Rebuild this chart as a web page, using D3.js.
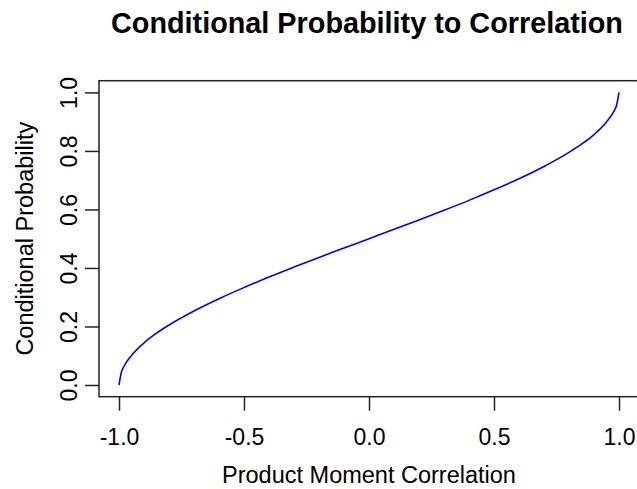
<!DOCTYPE html>
<html>
<head>
<meta charset="utf-8">
<script src="https://cdn.jsdelivr.net/npm/d3@7"></script>
<style>
  body { margin: 0; background: #fff; }
  text { font-family: "Liberation Sans", Arial, sans-serif; fill: #000; }
</style>
</head>
<body>
<svg id="chart"></svg>
<script>
// values
const corr = [-1.0, -0.99, -0.98, -0.95, -0.9, -0.85, -0.8, -0.7, -0.6, -0.5, -0.4, -0.3, -0.2, -0.1,
  0.0, 0.1, 0.2, 0.3, 0.4, 0.5, 0.6, 0.7, 0.8, 0.85, 0.9, 0.95, 0.98, 0.99, 1.0];
const prob = [0.0, 0.045, 0.064, 0.101, 0.144, 0.177, 0.205, 0.253, 0.295, 0.333, 0.369, 0.403, 0.436, 0.468,
  0.5, 0.532, 0.564, 0.597, 0.631, 0.667, 0.705, 0.747, 0.795, 0.823, 0.856, 0.899, 0.936, 0.955, 1.0];
const xTicks = [-1.0, -0.5, 0.0, 0.5, 1.0];
const yTicks = [0.0, 0.2, 0.4, 0.6, 0.8, 1.0];

const [width, height] = [637, 489];
const box = { left: 99, right: 639, top: 80.7, bottom: 396.7 };

let svg = d3.select('#chart')
  .attr('width', width)
  .attr('height', height)

// R style: 4% padding around data range
let x = d3.scaleLinear().domain([-1.08, 1.08]).range([box.left, box.right])
let y = d3.scaleLinear().domain([-0.04, 1.04]).range([box.bottom, box.top])

let data = corr.map((c, i) => ({ x: c, y: prob[i] }))

// curve
svg.append('path')
  .datum(data)
  .attr('fill', 'none')
  .attr('stroke', '#0000ff')
  .attr('stroke-width', 1.6)
  .attr('d', d3.line()
    .x(d => x(d.x))
    .y(d => y(d.y))
    .curve(d3.curveMonotoneX))

// plot box
svg.append('rect')
  .attr('x', box.left)
  .attr('y', box.top)
  .attr('width', box.right - box.left)
  .attr('height', box.bottom - box.top)
  .attr('fill', 'none')
  .attr('stroke', '#222')
  .attr('stroke-width', 1.5)

// x axis
let gx = svg.append('g')
  .attr('transform', 'translate(0,' + box.bottom + ')')
  .call(d3.axisBottom(x).tickValues(xTicks).tickSize(14).tickFormat(d3.format('.1f')))
gx.select('.domain').remove()
gx.selectAll('line').attr('stroke', '#222').attr('stroke-width', 1.5)
gx.selectAll('text')
  .attr('y', 48)
  .attr('dy', 0)
  .attr('font-size', 23)
  .attr('font-family', '"Liberation Sans", Arial, sans-serif')
  .attr('fill', '#000')
  .text(d => d3.format('.1f')(d).replace('−', '-'))

// y axis
let gy = svg.append('g')
  .attr('transform', 'translate(' + box.left + ',0)')
  .call(d3.axisLeft(y).tickValues(yTicks).tickSize(14).tickFormat(d3.format('.1f')))
gy.select('.domain').remove()
gy.selectAll('line').attr('stroke', '#222').attr('stroke-width', 1.5)
gy.selectAll('text')
  .attr('x', null)
  .attr('dy', 0)
  .attr('text-anchor', 'middle')
  .attr('transform', 'translate(-22,0) rotate(-90)')
  .attr('font-size', 23)
  .attr('font-family', '"Liberation Sans", Arial, sans-serif')
  .attr('fill', '#000')

// title
svg.append('text')
  .attr('x', 367)
  .attr('y', 33)
  .attr('text-anchor', 'middle')
  .attr('font-size', 28.8)
  .attr('font-weight', 'bold')
  .text('Conditional Probability to Correlation')

// axis labels
svg.append('text')
  .attr('x', (box.left + box.right) / 2)
  .attr('y', 483)
  .attr('text-anchor', 'middle')
  .attr('font-size', 23.5)
  .text('Product Moment Correlation')

svg.append('text')
  .attr('transform', 'translate(33,' + (box.top + box.bottom) / 2 + ') rotate(-90)')
  .attr('text-anchor', 'middle')
  .attr('font-size', 23.5)
  .text('Conditional Probability')
</script>
</body>
</html>
